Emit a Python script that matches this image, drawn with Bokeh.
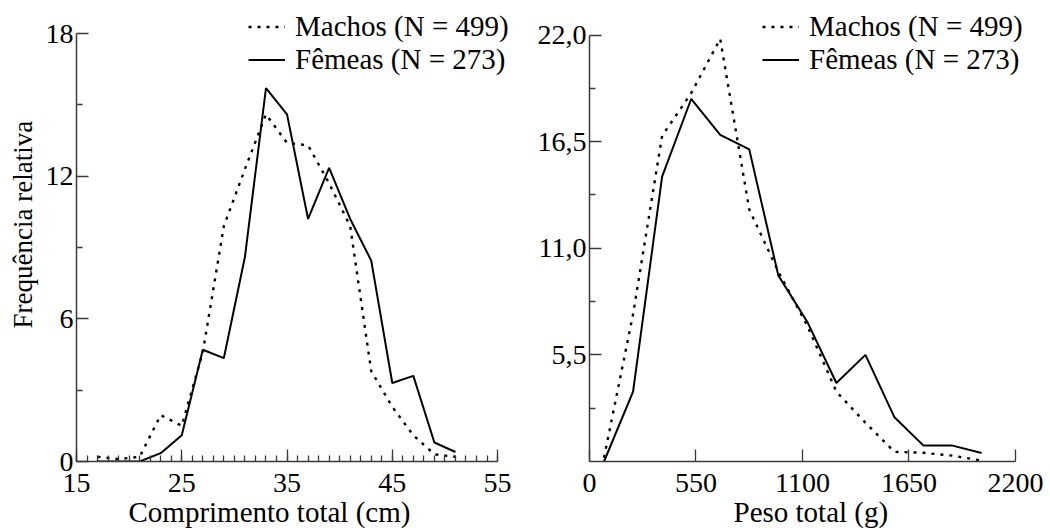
from bokeh.plotting import figure
from bokeh.layouts import row
from bokeh.models import (Range1d, FixedTicker, Legend, LegendItem, Title,
                          CustomJSTickFormatter)
from bokeh.embed import file_html
from bokeh.resources import INLINE

# ---------------- data ----------------
comp_cm = [17, 19, 21, 23, 25, 27, 29, 31, 33, 35, 37, 39, 41, 43, 45, 47, 49, 51]
comp_machos = [0.2, 0.1, 0.2, 1.95, 1.5, 4.6, 9.9, 12.3, 14.6, 13.4, 13.3, 11.7,
               9.9, 3.8, 2.3, 1.1, 0.3, 0.2]
comp_femeas = [0.0, 0.0, 0.0, 0.35, 1.1, 4.7, 4.35, 8.6, 15.7, 14.6, 10.2, 12.35,
               10.2, 8.45, 3.3, 3.6, 0.8, 0.4]

peso_g = [75, 225, 375, 525, 675, 825, 975, 1125, 1275, 1425, 1575, 1725, 1875, 2025]
peso_machos = [0.2, 7.6, 16.8, 19.0, 21.8, 13.0, 9.8, 7.0, 3.6, 2.0, 0.5, 0.45, 0.3, 0.05]
peso_femeas = [0.0, 3.6, 14.7, 18.7, 16.85, 16.1, 9.6, 7.2, 4.05, 5.5, 2.28, 0.82, 0.82, 0.44]

label_machos = "Machos (N = 499)"
label_femeas = "Fêmeas (N = 273)"

left_xticks = [15, 25, 35, 45, 55]
left_yticks = [0, 6, 12, 18]
left_yminor = [3, 9, 15]
right_xticks = [0, 550, 1100, 1650, 2200]
right_yticks = [5.5, 11.0, 16.5, 22.0]
right_yminor = [2.75, 8.25, 13.75, 19.25]

FONT = "Liberation Serif"
TICK_SIZE = "28px"
TEXT_SIZE = "29px"
AXIS_COLOR = "#3a3a3a"

FIG_H = 532
BORDER_TOP = 0
BORDER_BOTTOM = 71


def style_axes(p, xbounds, ybounds):
    for ax in (p.xaxis[0], p.yaxis[0]):
        ax.axis_line_color = AXIS_COLOR
        ax.axis_line_width = 1.5
        ax.major_tick_line_color = AXIS_COLOR
        ax.minor_tick_line_color = AXIS_COLOR
        ax.major_tick_line_width = 1.3
        ax.minor_tick_line_width = 1.3
        ax.major_tick_in = 12
        ax.major_tick_out = 0
        ax.minor_tick_in = 6
        ax.minor_tick_out = 0
        ax.major_label_text_font = FONT
        ax.major_label_text_font_size = TICK_SIZE
        ax.major_label_text_color = "black"
    p.xaxis[0].major_label_standoff = 12
    p.yaxis[0].major_label_standoff = 3
    p.xaxis[0].bounds = xbounds
    p.yaxis[0].bounds = ybounds
    p.xgrid.visible = False
    p.ygrid.visible = False
    p.outline_line_color = None


def make_fig(width, border_left, border_right, xr, yr):
    p = figure(width=width, height=FIG_H, output_backend="svg", toolbar_location=None,
               x_range=Range1d(*xr), y_range=Range1d(*yr),
               min_border_left=border_left, min_border_right=border_right,
               min_border_top=BORDER_TOP, min_border_bottom=BORDER_BOTTOM)
    p.background_fill_color = "white"
    p.border_fill_color = "white"
    return p


def add_legend(p, r_m, r_f, x_loc):
    leg = Legend(items=[LegendItem(label=label_machos, renderers=[r_m]),
                        LegendItem(label=label_femeas, renderers=[r_f])],
                 location=(x_loc, 385), orientation="vertical",
                 label_text_font=FONT, label_text_font_size=TEXT_SIZE,
                 label_text_color="black",
                 glyph_width=37, glyph_height=31, label_height=31,
                 label_standoff=10, spacing=0, padding=0, margin=0,
                 background_fill_alpha=0, border_line_alpha=0)
    p.add_layout(leg)


def side_title(p, text, place, offset, standoff, size=TEXT_SIZE, valign="bottom"):
    p.add_layout(Title(text=text, align="left", offset=offset, standoff=standoff,
                       vertical_align=valign,
                       text_font=FONT, text_font_size=size,
                       text_font_style="normal", text_color="black"), place)


# ---------------- left: comprimento ----------------
# frame spans 76..516 px; x axis drawn only over 15..55
p1 = make_fig(528, 76, 12, (15, 56.8), (0, 19.39))
r1m = p1.line(comp_cm, comp_machos, line_color="black", line_width=2.4, line_dash="3 6")
r1f = p1.line(comp_cm, comp_femeas, line_color="black", line_width=2.0)
style_axes(p1, (15, 55), (0, 18))
p1.xaxis[0].ticker = FixedTicker(ticks=left_xticks, minor_ticks=list(range(15, 56)))
p1.yaxis[0].ticker = FixedTicker(ticks=left_yticks, minor_ticks=left_yminor)
add_legend(p1, r1m, r1f, 172)
side_title(p1, "Comprimento total (cm)", "below", 52, 2, valign="top")
side_title(p1, "Frequência relativa", "left", 133, 10, "27px")

# ---------------- right: peso ----------------
# frame spans 589..1027 px; x axis drawn only over 0..2200
p2 = make_fig(518, 61, 19, (0, 2262), (0, 23.78))
r2m = p2.line(peso_g, peso_machos, line_color="black", line_width=2.4, line_dash="3 6")
r2f = p2.line(peso_g, peso_femeas, line_color="black", line_width=2.0)
style_axes(p2, (0, 2200), (0, 22))
p2.xaxis[0].ticker = FixedTicker(ticks=right_xticks, minor_ticks=[])
p2.yaxis[0].ticker = FixedTicker(ticks=right_yticks, minor_ticks=right_yminor)
p2.yaxis[0].formatter = CustomJSTickFormatter(code="return tick.toFixed(1).replace('.', ',');")
add_legend(p2, r2m, r2f, 173)
side_title(p2, "Peso total (g)", "below", 144, 2, valign="top")

layout = row(p1, p2)
open("out.html", "w").write(file_html(layout, INLINE))
